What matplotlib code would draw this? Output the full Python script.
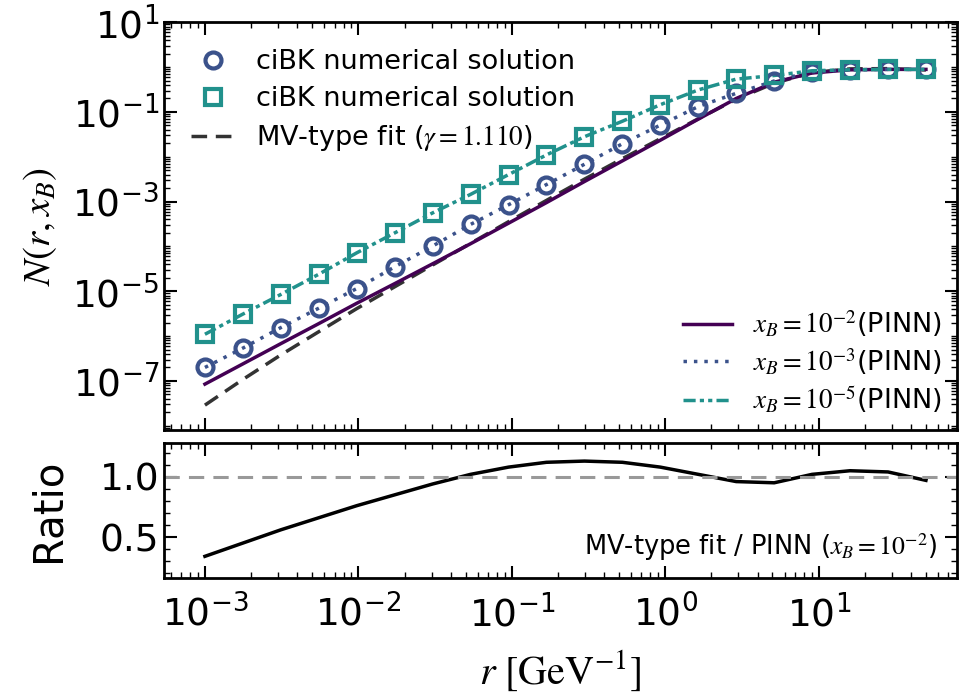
import numpy as np
import matplotlib.pyplot as plt
from matplotlib.lines import Line2D
from matplotlib.ticker import LogLocator, MultipleLocator, NullFormatter

plt.rcParams['font.family'] = 'DejaVu Sans'
plt.rcParams['mathtext.fontset'] = 'stix'

# dipole size grid [GeV^-1]
r = np.array([0.001, 0.001767, 0.003124, 0.00552, 0.009756, 0.01724, 0.03047,
              0.05386, 0.09519, 0.1682, 0.2973, 0.5254, 0.9286, 1.641, 2.901,
              5.127, 9.061, 16.01, 28.30, 50.0])

# ciBK numerical solution / PINN, x_B = 1e-3
n_x3 = np.array([2.0e-7, 5.4e-7, 1.55e-6, 4.2e-6, 1.15e-5, 3.5e-5, 1.02e-4,
                 3.1e-4, 8.5e-4, 2.4e-3, 6.8e-3, 0.0195, 0.051, 0.132, 0.26,
                 0.49, 0.79, 0.87, 0.89, 0.89])
# ciBK numerical solution / PINN, x_B = 1e-5
n_x5 = np.array([1.1e-6, 3.1e-6, 8.5e-6, 2.4e-5, 7.2e-5, 2.0e-4, 5.6e-4,
                 1.45e-3, 4.0e-3, 0.011, 0.028, 0.062, 0.145, 0.31, 0.54,
                 0.65, 0.83, 0.87, 0.89, 0.89])
# PINN, x_B = 1e-2
n_x2 = np.array([8.5e-8, 2.4e-7, 6.8e-7, 1.9e-6, 5.4e-6, 1.48e-5, 4.1e-5,
                 1.15e-4, 3.3e-4, 9.5e-4, 2.8e-3, 8.1e-3, 0.0234, 0.069, 0.20,
                 0.46, 0.74, 0.87, 0.89, 0.89])
# MV-type fit / PINN (x_B = 1e-2)
ratio = np.array([0.34, 0.45, 0.56, 0.66, 0.76, 0.85, 0.94, 1.02, 1.08, 1.12,
                  1.13, 1.12, 1.08, 1.02, 0.96, 0.95, 1.02, 1.05, 1.04, 0.97])
mv_fit = n_x2 * ratio

c2 = '#440154'
c3 = '#3b528b'
c5 = '#21918c'
dashdotdot = (0, (3.5, 1.2, 1.2, 1.2, 1.2, 1.2))
mvdash = (0, (4.5, 2.5))

fig = plt.figure(figsize=(9.64, 6.96), dpi=100)
ax = fig.add_axes([0.170, 0.382, 0.823, 0.586])
axr = fig.add_axes([0.170, 0.1695, 0.823, 0.194], sharex=ax)

# main panel
ax.plot(r, n_x2, color=c2, lw=2.5, zorder=3)
ax.plot(r, mv_fit, color='#333333', lw=2.5, ls=mvdash, zorder=2)
ax.plot(r, n_x3, color=c3, lw=2.5, ls=(0, (1, 2)), zorder=3)
ax.plot(r, n_x5, color=c5, lw=2.5, ls=dashdotdot, zorder=3)
ax.plot(r, n_x3, 'o', ms=11.5, mfc='none', mec=c3, mew=3, zorder=4)
ax.plot(r, n_x5, 's', ms=11.5, mfc='none', mec=c5, mew=3, zorder=4)

ax.set_xscale('log')
ax.set_yscale('log')
ax.set_xlim(5.4e-4, 80)
ax.set_ylim(8e-9, 10)
ax.set_yticks([1e-7, 1e-5, 1e-3, 1e-1, 1e1])
ax.yaxis.set_minor_locator(LogLocator(base=10, subs=np.arange(1, 10), numticks=40))
ax.yaxis.set_minor_formatter(NullFormatter())
ax.set_ylabel(r'$N(r,x_B)$', fontsize=28, labelpad=10)

h1 = [Line2D([], [], ls='none', marker='o', ms=11.5, mfc='none', mec=c3, mew=3),
      Line2D([], [], ls='none', marker='s', ms=11.5, mfc='none', mec=c5, mew=3),
      Line2D([], [], color='#333333', lw=2.5, ls=mvdash)]
leg1 = ax.legend(h1, ['ciBK numerical solution', 'ciBK numerical solution',
                      r'MV-type fit ($\gamma=1.110$)'],
                 loc='upper left', frameon=False, fontsize=19.5,
                 handlelength=1.6, borderaxespad=0.6, labelspacing=0.4)
ax.add_artist(leg1)

h2 = [Line2D([], [], color=c2, lw=2.5),
      Line2D([], [], color=c3, lw=2.5, ls=(0, (1, 2))),
      Line2D([], [], color=c5, lw=2.5, ls=dashdotdot)]
ax.legend(h2, [r'$x_B=10^{-2}$(PINN)', r'$x_B=10^{-3}$(PINN)',
               r'$x_B=10^{-5}$(PINN)'],
          loc='lower right', frameon=False, fontsize=19.5,
          handlelength=1.8, borderaxespad=0.15, labelspacing=0.25)

# ratio panel
axr.plot(r, ratio, color='black', lw=2.5)
axr.axhline(1.0, color='#999999', lw=2.2, ls=(0, (5, 3)))
axr.set_ylim(0.16, 1.28)
axr.set_yticks([0.5, 1.0])
axr.yaxis.set_minor_locator(MultipleLocator(0.1))
axr.set_ylabel('Ratio', fontsize=29, labelpad=22)
axr.text(0.975, 0.23, r'MV-type fit / PINN ($x_B=10^{-2}$)', transform=axr.transAxes,
         ha='right', va='center', fontsize=18.5)
axr.set_xlabel(r'$r\ [\mathrm{GeV}^{-1}]$', fontsize=29, labelpad=10)
axr.xaxis.set_minor_locator(LogLocator(base=10, subs=np.arange(1, 10), numticks=40))

for a in (ax, axr):
    for s in a.spines.values():
        s.set_linewidth(2)
    a.tick_params(which='both', direction='in', top=True, right=True, labelsize=27)
    a.tick_params(which='major', length=9, width=1.5)
    a.tick_params(which='minor', length=4.5, width=1)
ax.tick_params(labelbottom=False)
axr.tick_params(axis='x', pad=12)

plt.savefig('out.png', dpi=100)
